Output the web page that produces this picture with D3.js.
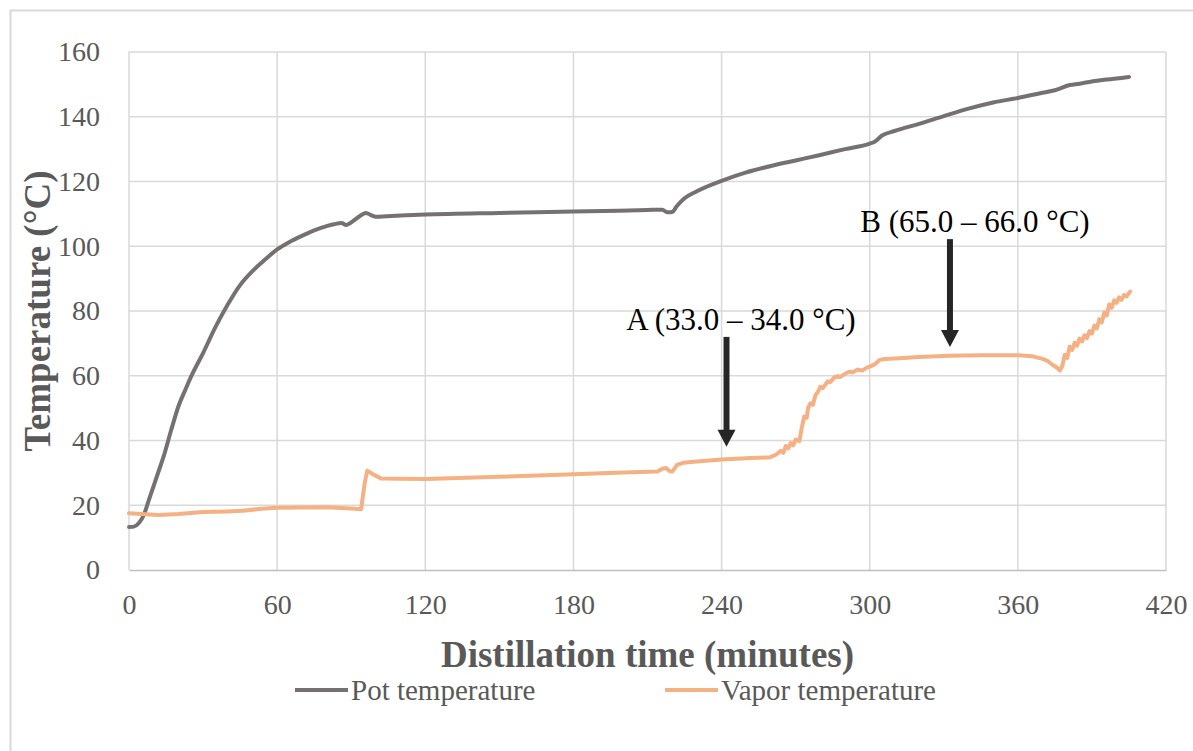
<!DOCTYPE html>
<html>
<head>
<meta charset="utf-8">
<script src="https://cdn.jsdelivr.net/npm/d3@7"></script>
<style>
  body { margin: 0; background: #fff; }
  svg { display: block; }
  svg text { font-family: "Liberation Serif", "Times New Roman", serif; }
</style>
</head>
<body>
<svg></svg>
<script>
// pot temperature (time in minutes, temperature in °C)
var potTime = [0,2,4,6,8,10,12,14,17,20,23,25,30,35,40,45,50,55,60,65,70,75,80,83,86,88,92,96,98,100,110,120,150,180,210,216,218,220,222,225,230,240,250,260,270,280,290,300,302,305,310,320,330,340,350,360,370,375,381,385,390,395,400,405];
var potTemp = [13.3,13.4,14.5,17,21.5,26,30.5,35,43,50.5,56,59.5,67,75,82,88,92.3,95.8,99,101.3,103.2,104.9,106.2,106.8,107.2,106.6,108.5,110.3,109.6,109.1,109.5,109.8,110.3,110.7,111.2,111.3,110.5,110.6,112.5,114.8,117,120.2,122.8,124.8,126.5,128.2,130,131.7,132.3,134.2,135.6,137.8,140.2,142.5,144.4,145.8,147.4,148.2,149.8,150.2,150.9,151.4,151.8,152.3];

// vapor temperature
var vaporTime = [0,5,12,20,30,40,46,55,60,70,80,90,94,95.5,96.5,99,102,110,120,150,180,200,214,216,217.5,219,220,222,224.5,230,240,250,259.5,262,264,265,266,267,268,269,270,271.5,272.5,273.5,274.5,275,276,277,278,279,280,281,283,284,285.5,287,288,290,292,293,295,297,298.8,300,302,304,306,312,320,332,345,360,366,368,370,372,374,376,377,378,379,380,381,382,383,384,385,386,387,388,389,390,391,392,393,394,395,396,397,398,399,400,401,402,403,404,405.5];
var vaporTemp = [17.5,17.3,17.0,17.3,17.9,18.1,18.3,19.0,19.2,19.3,19.4,19.0,18.8,27,30.7,29.5,28.3,28.2,28.1,28.8,29.6,30.1,30.4,31.3,31.5,30.5,30.4,32.5,33.1,33.5,34.1,34.5,34.8,35.6,36.8,36.2,38.3,37.6,39.2,38.5,40.3,39.8,44,47.4,47,50,51.5,51,54,55,56.6,56.2,58.3,58,59.4,59.9,59.6,60.6,61.3,61,61.9,61.6,62.5,62.8,63.5,64.9,65.2,65.4,65.8,66.2,66.3,66.3,66.0,65.6,65.2,64.6,63.4,62.4,61.6,63,66.5,65.5,69,68,70.2,69.3,71.5,70.6,72.5,71.6,73.8,73,75.5,74.6,77.5,76.5,79.5,78.6,82,81,83.3,82.5,84.2,83.4,85,84.5,86];

var xTicks = [0,60,120,180,240,300,360,420];
var yTicks = [0,20,40,60,80,100,120,140,160];

var seriesNames = ["Pot temperature","Vapor temperature"];
var seriesColors = ["#767171","#f4b183"];

// arrow annotations: label, time, arrow top temp, arrow tip temp
var noteLabels = ["A (33.0 \u2013 34.0 \u00B0C)","B (65.0 \u2013 66.0 \u00B0C)"];
var noteTime = [242,332.5];
var noteTop = [72,102.2];
var noteTip = [38.1,68.9];
var noteTextX = [741,975];

draw();

function draw(){
  var width = 1193;
  var height = 751;
  var left = 129, right = 1166, top = 52, bottom = 570;

  var svg = d3.select("svg")
              .attr("width",width)
              .attr("height",height);

  // outer frame
  svg.append("rect")
     .attr("x",10.5).attr("y",10.5)
     .attr("width",1200).attr("height",800)
     .attr("fill","none")
     .attr("stroke","#d9d9d9")
     .attr("stroke-width",2);

  var x = d3.scaleLinear().domain([0,420]).range([left,right]);
  var y = d3.scaleLinear().domain([0,160]).range([bottom,top]);

  // grid
  svg.append("g").selectAll("line")
     .data(yTicks.slice(1))
     .enter().append("line")
     .attr("x1",left).attr("x2",right)
     .attr("y1",function(d){return y(d);})
     .attr("y2",function(d){return y(d);})
     .attr("stroke","#d9d9d9")
     .attr("stroke-width",1.5);

  svg.append("g").selectAll("line")
     .data(xTicks)
     .enter().append("line")
     .attr("x1",function(d){return x(d);})
     .attr("x2",function(d){return x(d);})
     .attr("y1",top).attr("y2",bottom)
     .attr("stroke","#d9d9d9")
     .attr("stroke-width",1.5);

  // bottom axis
  var xAxis = svg.append("g")
     .attr("transform","translate(0,"+bottom+")")
     .call(d3.axisBottom(x).tickValues(xTicks).tickSize(0).tickPadding(24));
  xAxis.attr("font-family",null);
  xAxis.select(".domain").attr("stroke","#bfbfbf").attr("stroke-width",1.5);
  xAxis.selectAll("text")
       .attr("font-size",28)
       .attr("fill","#595959");

  var yAxis = svg.append("g")
     .attr("transform","translate("+left+",0)")
     .call(d3.axisLeft(y).tickValues(yTicks).tickSize(0).tickPadding(29));
  yAxis.attr("font-family",null);
  yAxis.select(".domain").remove();
  yAxis.selectAll("text")
       .attr("font-size",28)
       .attr("fill","#595959");

  // lines
  var potLine = d3.line()
                  .curve(d3.curveMonotoneX)
                  .x(function(d){return x(d[0]);})
                  .y(function(d){return y(d[1]);});
  var line = d3.line()
               .x(function(d){return x(d[0]);})
               .y(function(d){return y(d[1]);});

  var potData = d3.zip(potTime,potTemp);
  var vaporData = d3.zip(vaporTime,vaporTemp);

  svg.append("path")
     .datum(potData)
     .attr("d",potLine)
     .attr("fill","none")
     .attr("stroke",seriesColors[0])
     .attr("stroke-width",4)
     .attr("stroke-linejoin","round")
     .attr("stroke-linecap","round");

  svg.append("path")
     .datum(vaporData)
     .attr("d",line)
     .attr("fill","none")
     .attr("stroke",seriesColors[1])
     .attr("stroke-width",4)
     .attr("stroke-linejoin","round")
     .attr("stroke-linecap","round");

  // annotations
  var notes = svg.append("g").selectAll("g")
                 .data(noteLabels)
                 .enter().append("g");

  notes.append("line")
       .attr("x1",function(d,i){return x(noteTime[i]);})
       .attr("x2",function(d,i){return x(noteTime[i]);})
       .attr("y1",function(d,i){return y(noteTop[i]);})
       .attr("y2",function(d,i){return y(noteTip[i])-16;})
       .attr("stroke","#262626")
       .attr("stroke-width",6);

  notes.append("path")
       .attr("d",function(d,i){
         var px = x(noteTime[i]), py = y(noteTip[i]);
         return "M"+(px-9)+","+(py-17)+"L"+(px+9)+","+(py-17)+"L"+px+","+py+"Z";
       })
       .attr("fill","#262626");

  notes.append("text")
       .attr("x",function(d,i){return noteTextX[i];})
       .attr("y",function(d,i){return y(noteTop[i])-7;})
       .attr("text-anchor","middle")
       .attr("font-size",31)
       .attr("fill","#000")
       .text(function(d){return d;});

  // axis titles
  svg.append("text")
     .attr("x",(left+right)/2)
     .attr("y",667)
     .attr("text-anchor","middle")
     .attr("font-size",37)
     .attr("font-weight","bold")
     .attr("fill","#595959")
     .text("Distillation time (minutes)");

  svg.append("text")
     .attr("transform","translate(50,"+((top+bottom)/2)+") rotate(-90)")
     .attr("text-anchor","middle")
     .attr("font-size",37)
     .attr("font-weight","bold")
     .attr("fill","#595959")
     .text("Temperature (\u00B0C)");

  // legend
  var legX = [295,665];
  var legend = svg.append("g").selectAll("g")
                  .data(seriesNames)
                  .enter().append("g");

  legend.append("line")
        .attr("x1",function(d,i){return legX[i];})
        .attr("x2",function(d,i){return legX[i]+53;})
        .attr("y1",690).attr("y2",690)
        .attr("stroke",function(d,i){return seriesColors[i];})
        .attr("stroke-width",4);

  legend.append("text")
        .attr("x",function(d,i){return legX[i]+56;})
        .attr("y",700)
        .attr("font-size",29)
        .attr("fill","#595959")
        .text(function(d){return d;});
}
</script>
</body>
</html>
